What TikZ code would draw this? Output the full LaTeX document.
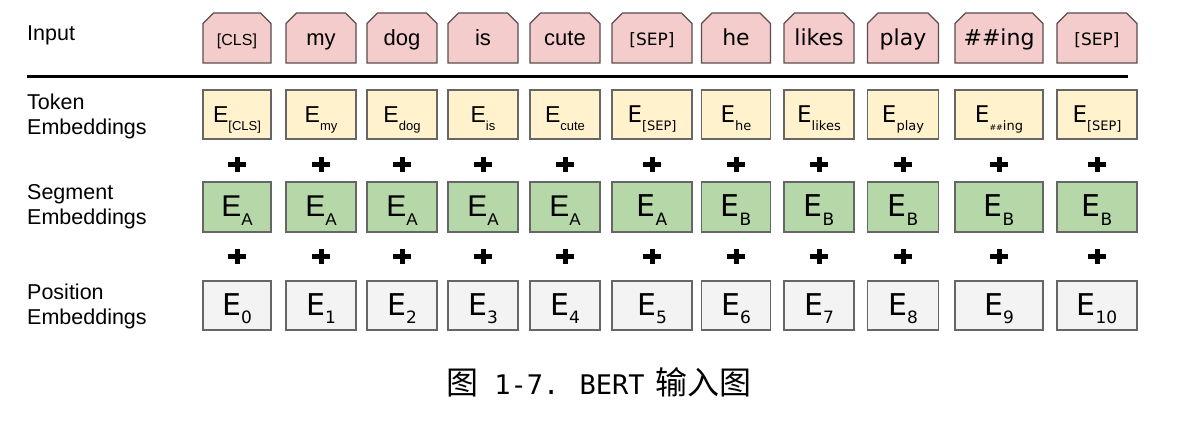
\documentclass[tikz,border=0pt]{standalone}
\usepackage{fontspec}
\setmainfont{Liberation Sans}
\newfontfamily\dejavu{DejaVu Sans}
\newfontfamily\capmono{DejaVu Sans Mono}
\newfontfamily\cjkfont{Noto Sans CJK SC}
\usetikzlibrary{shapes.misc}

\definecolor{inpink}{HTML}{F4CCCC}
\definecolor{inedge}{HTML}{5A4C4C}
\definecolor{tokyellow}{HTML}{FFF2CC}
\definecolor{seggreen}{HTML}{B6D7A8}
\definecolor{posgray}{HTML}{F3F3F3}
\definecolor{edgegray}{HTML}{666666}

\newcommand{\fsz}[1]{\fontsize{#1}{#1}\selectfont}
\newcommand{\tokE}[1]{{\fsz{23}E}\raisebox{-8pt}{\fsz{13}#1}}
\newcommand{\bigE}[1]{{\fsz{30}E}\raisebox{-9pt}{\fsz{17}#1}}

\begin{document}
\begin{tikzpicture}[
    x=1pt, y=-1pt,
    inbox/.style={chamfered rectangle, chamfered rectangle corners={north west,north east},
      chamfered rectangle xsep=7pt, draw=inedge, fill=inpink, line width=1.2pt,
      inner sep=0pt, minimum height=50pt, text height=25pt, text depth=9pt, font=\fsz{22}},
    tokbox/.style={draw=edgegray, fill=tokyellow, line width=1.2pt, inner sep=0pt,
      minimum height=49pt, text height=26pt, text depth=9pt},
    segbox/.style={draw=edgegray, fill=seggreen, line width=1.2pt, inner sep=0pt,
      minimum height=50pt, text height=28pt, text depth=8pt},
    posbox/.style={draw=edgegray, fill=posgray, line width=1.2pt, inner sep=0pt,
      minimum height=49pt, text height=28pt, text depth=9pt},
    rowlabel/.style={anchor=west, align=left, inner sep=0pt, font=\fsz{21.5}},
    plus/.style={minimum width=18pt, minimum height=15pt, inner sep=0pt,
      path picture={
        \fill ([xshift=-9pt,yshift=-2.5pt]path picture bounding box.center) rectangle ++(18pt,5pt);
        \fill ([xshift=-2.5pt,yshift=-7.5pt]path picture bounding box.center) rectangle ++(5pt,15pt);
      }}
  ]
  \useasboundingbox (0,0) rectangle (1189,422);

  % row labels
  \node[rowlabel] (inlabel) at (27,35) {Input};
  \node[rowlabel] (toklabel) at (27,116) {Token\\[3.5pt]Embeddings};
  \node[rowlabel] (seglabel) at (27,207) {Segment\\[3.5pt]Embeddings};
  \node[rowlabel] (poslabel) at (27,306.5) {Position\\[3.5pt]Embeddings};

  % separator under the input row
  \coordinate (rulew) at (27,77);
  \coordinate (rulee) at (1128,77);
  \draw[line width=3pt] (rulew) -- (rulee);

  % one column per token
  \foreach \i/\x/\w/\fnt/\inp/\tok in {
      1/237/68/\rmfamily/{\fsz{16}[CLS]}/{[CLS]},
      2/321/70/\rmfamily/{my}/{my},
      3/402/70/\rmfamily/{dog}/{dog},
      4/483/70/\rmfamily/{is}/{is},
      5/565/70/\rmfamily/{cute}/{cute},
      6/652/80/\dejavu/{\fsz{17}[SEP]}/{[SEP]},
      7/736/69/\dejavu/{he}/{he},
      8/819/70/\dejavu/{likes}/{likes},
      9/903/71/\dejavu/{play}/{play},
      10/999/88/\dejavu/{\#\#ing}/{{\fsz{8}\#\#}ing},
      11/1097/80/\dejavu/{\fsz{17}[SEP]}/{[SEP]}} {
    \pgfmathtruncatemacro\p{\i-1}
    \node[inbox, minimum width=\w pt] (in\i) at (\x,38) {\fnt\inp};
    \node[tokbox, minimum width=\w pt] (tok\i) at (\x,114.5) {\fnt\tokE{\tok}};
    \node[plus] (plusa\i) at (\x,165) {};
    \node[segbox, minimum width=\w pt] (seg\i) at (\x,207) {\fnt\bigE{\ifnum\i<7 A\else B\fi}};
    \node[plus] (plusb\i) at (\x,257) {};
    \node[posbox, minimum width=\w pt] (pos\i) at (\x,305.5) {\dejavu\bigE{\p}};
  }

  \node[anchor=west, inner sep=0pt] (caption) at (446,382)
    {{\cjkfont\fsz{32}图}{\capmono\fsz{27}\ 1-7.\ \hspace{4pt}BERT}\hspace{11pt}{\cjkfont\fsz{32}输入图}};
\end{tikzpicture}
\end{document}
